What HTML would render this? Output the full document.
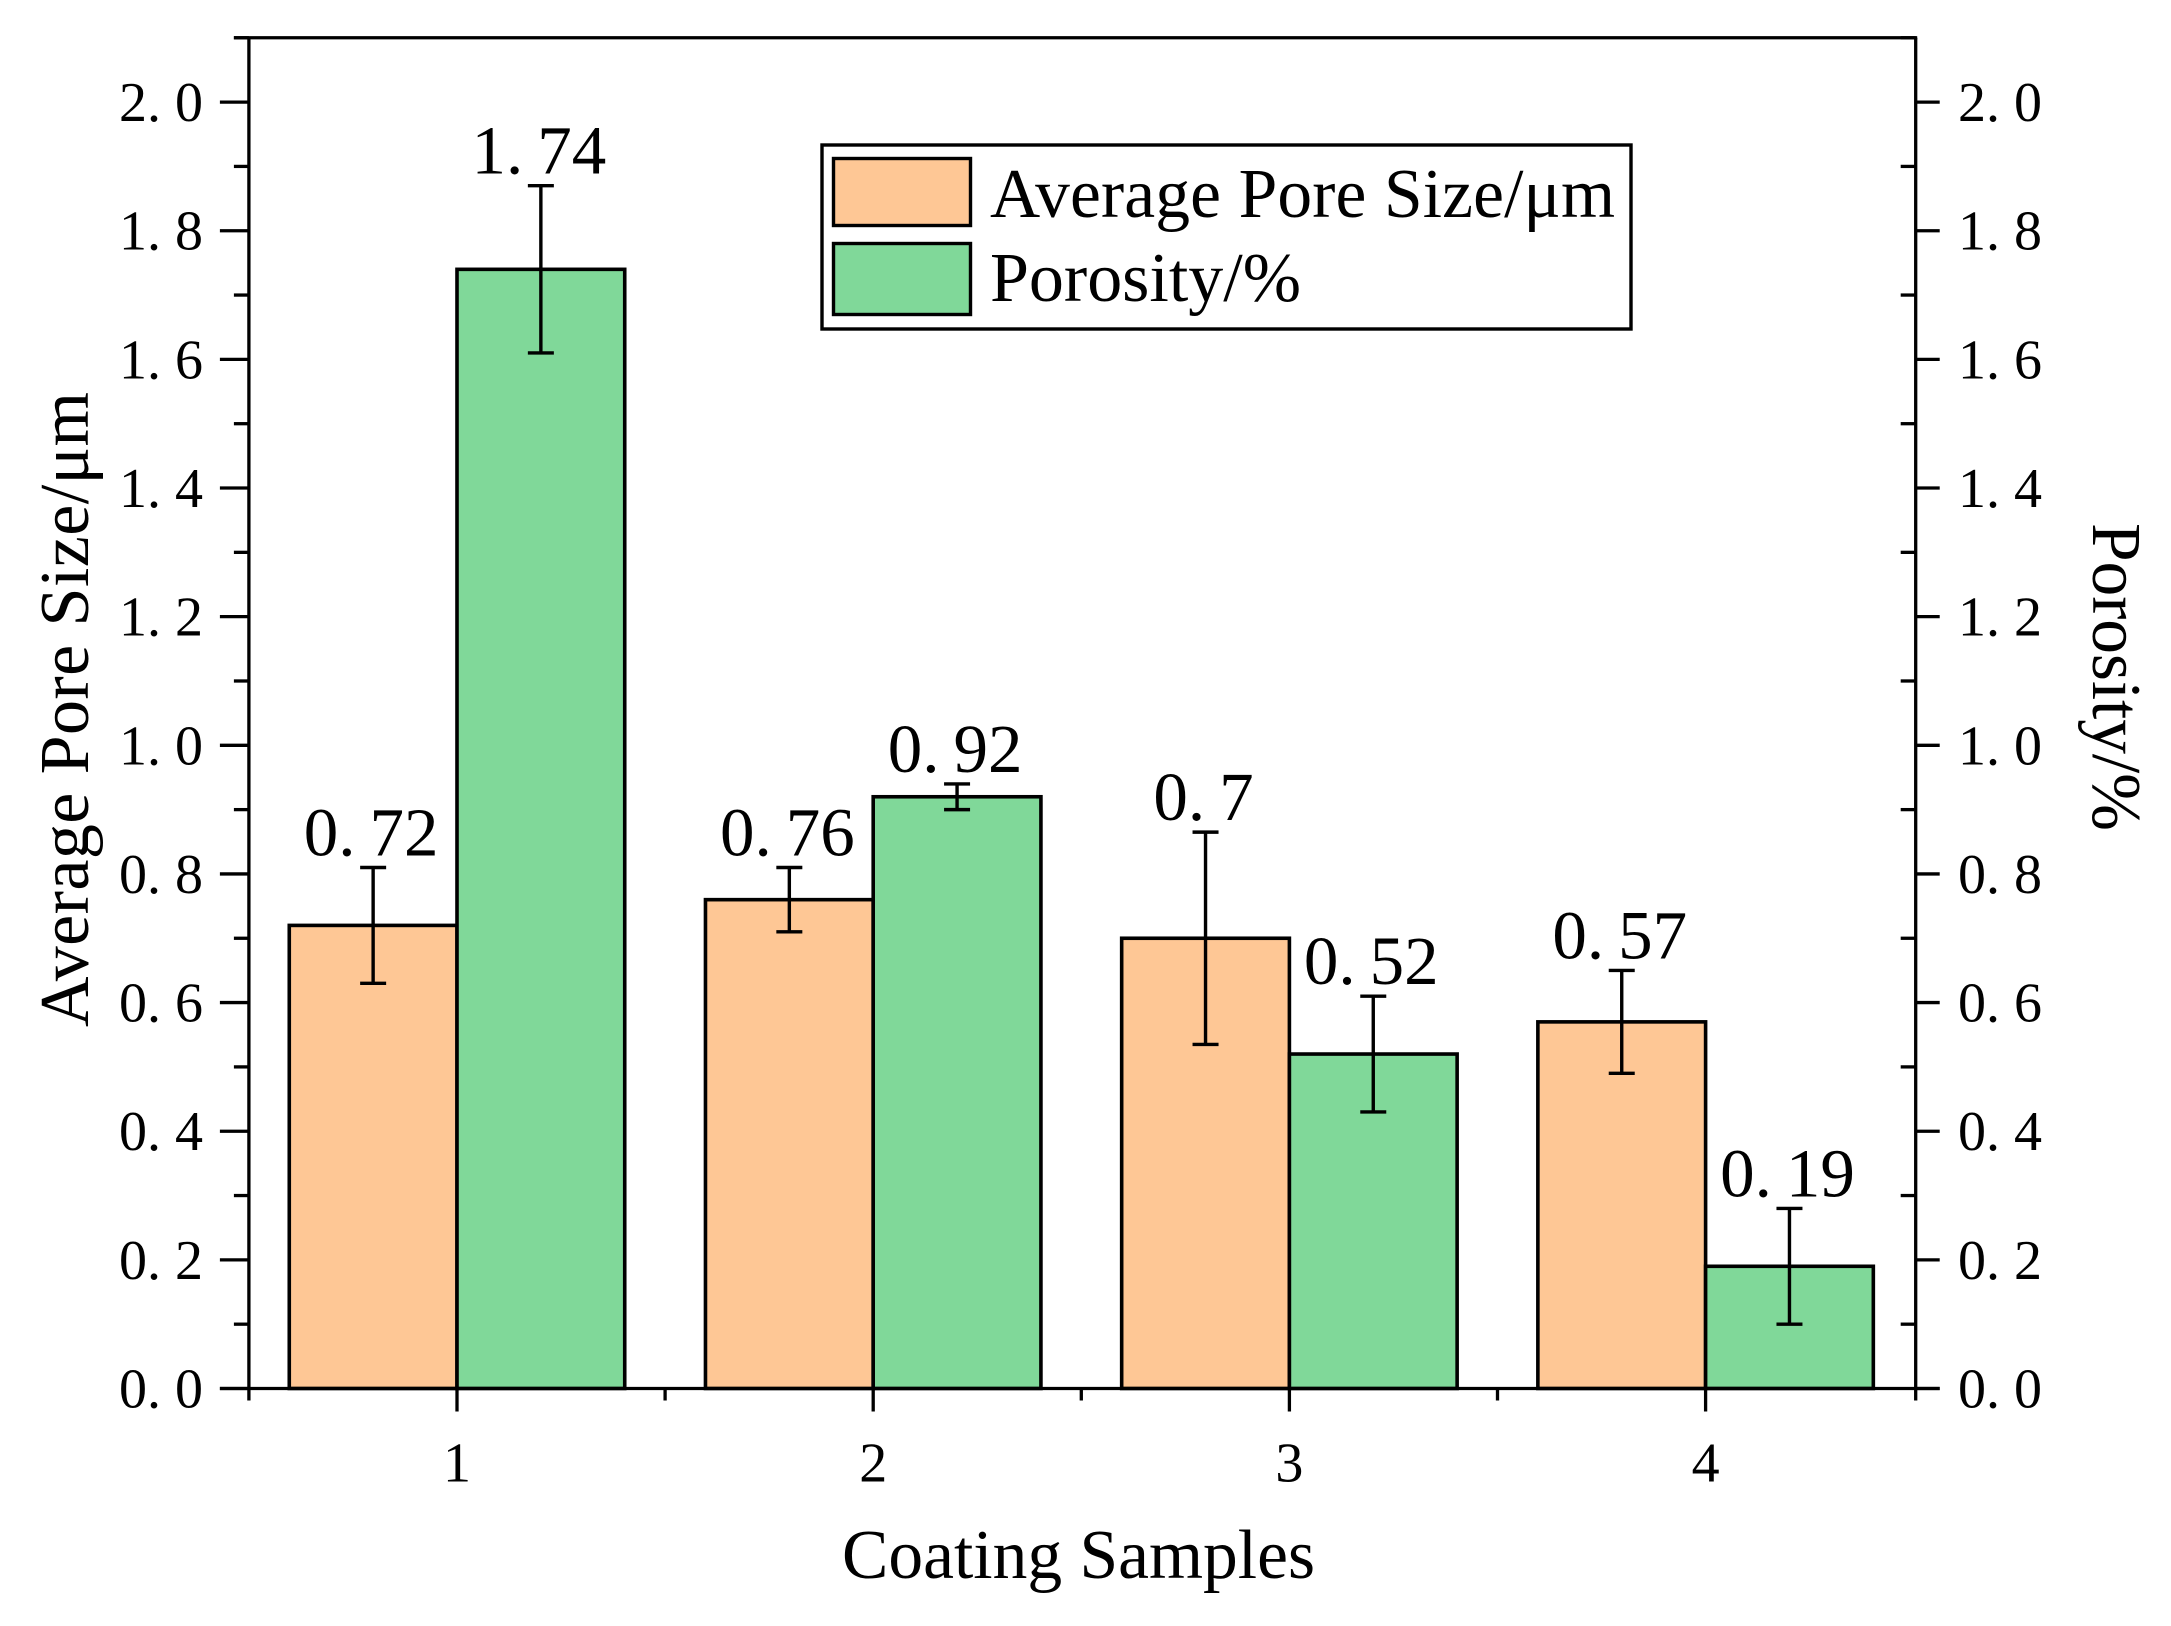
<!DOCTYPE html>
<html lang="en">
<head>
<meta charset="utf-8">
<title>Average Pore Size and Porosity of Coating Samples</title>
<style>
  html, body { margin: 0; padding: 0; background: #fff; }
  body { width: 2171px; height: 1626px; overflow: hidden; }
  svg { display: block; }
  text { font-family: "Liberation Serif", serif; fill: #000; }
</style>
</head>
<body>
<svg id="chart" xmlns="http://www.w3.org/2000/svg" width="2171" height="1626" viewBox="0 0 2171 1626">
  <g id="bars"></g>
  <g id="errors"></g>
  <g id="axes"></g>
  <g id="labels"></g>

  <text x="842" y="1578" font-size="69.5" textLength="473">Coating Samples</text>
  <text transform="translate(88 1027) rotate(-90)" font-size="70" textLength="635">Average Pore Size/μm</text>
  <text transform="translate(2093 523) rotate(90)" font-size="69.5" textLength="308">Porosity/%</text>

  <g>
    <rect x="822" y="145" width="809" height="184" fill="#fff" stroke="#000" stroke-width="3.4"/>
    <rect x="833.5" y="158.5" width="137" height="67" fill="#FEC795" stroke="#000" stroke-width="3.4"/>
    <text x="990" y="217" font-size="69.5" textLength="625">Average Pore Size/μm</text>
    <rect x="833.5" y="243.5" width="137" height="71" fill="#80D899" stroke="#000" stroke-width="3.4"/>
    <text x="990" y="301" font-size="70" textLength="311">Porosity/%</text>
  </g>
</svg>

<script>
const categories = [1, 2, 3, 4];
const averagePoreSize = [0.72, 0.76, 0.7, 0.57];
const porosity = [1.74, 0.92, 0.52, 0.19];
const averagePoreSizeError = [0.09, 0.05, 0.165, 0.08];
const porosityError = [0.13, 0.02, 0.09, 0.09];
const majorYTicks = [0, 0.2, 0.4, 0.6, 0.8, 1.0, 1.2, 1.4, 1.6, 1.8, 2.0];
const minorYTicks = [0.1, 0.3, 0.5, 0.7, 0.9, 1.1, 1.3, 1.5, 1.7, 1.9, 2.1];
const minorXTicks = [0.5, 1.5, 2.5, 3.5, 4.5];

const NS = 'http://www.w3.org/2000/svg';
const xScale = v => 457 + (v - 1) * 416.2;
const yScale = v => 1388.5 - v * 643.2;
const BAR_UNITS = 0.403;

function make(tag, parent, props) {
  const el = document.createElementNS(NS, tag);
  Object.keys(props).forEach(k => el.setAttribute(k, props[k]));
  parent.appendChild(el);
  return el;
}

function setNumber(el, str, gap) {
  const dot = str.indexOf('.');
  if (dot < 0) { el.textContent = str; return; }
  el.appendChild(document.createTextNode(str.slice(0, dot + 1)));
  const t = document.createElementNS(NS, 'tspan');
  t.setAttribute('dx', gap);
  t.textContent = str.slice(dot + 1);
  el.appendChild(t);
}

const barsG = document.getElementById('bars');
const errorsG = document.getElementById('errors');
const axesG = document.getElementById('axes');
const labelsG = document.getElementById('labels');

function drawBar(cat, value, side, color, suffix) {
  const x0 = side < 0 ? xScale(cat - BAR_UNITS) : xScale(cat);
  const x1 = side < 0 ? xScale(cat) : xScale(cat + BAR_UNITS);
  const rect = make('rect', barsG, {
    x: x0, y: yScale(value), width: x1 - x0, height: yScale(0) - yScale(value),
    fill: color, stroke: '#000', 'stroke-width': 3.6
  });
  
  
}

function drawError(cat, value, err, side, suffix) {
  const cx = xScale(cat + side * BAR_UNITS / 2);
  const hi = yScale(value + err);
  const lo = yScale(value - err);
  const stem = make('line', errorsG, { x1: cx, x2: cx, y1: hi, y2: lo, stroke: '#000', 'stroke-width': 3.4 });
  
  
  const capTop = make('line', errorsG, { x1: cx - 13, x2: cx + 13, y1: hi, y2: hi, stroke: '#000', 'stroke-width': 3.4 });
  
  
  const capBottom = make('line', errorsG, { x1: cx - 13, x2: cx + 13, y1: lo, y2: lo, stroke: '#000', 'stroke-width': 3.4 });
  
  

  const label = make('text', labelsG, { x: cx - 2, y: hi - 12, 'font-size': 69, 'text-anchor': 'middle' });
  
  
  setNumber(label, String(value), 14);
}

categories.forEach((c, i) => {
  drawBar(c, averagePoreSize[i], -1, '#FEC795', 'average-pore-size');
  drawBar(c, porosity[i], 1, '#80D899', 'porosity');
});
categories.forEach((c, i) => {
  drawError(c, averagePoreSize[i], averagePoreSizeError[i], -1, 'average-pore-size');
  drawError(c, porosity[i], porosityError[i], 1, 'porosity');
});

const left = xScale(0.5);
const right = xScale(4.5) + 2;
const AXIS_W = 3.3;

const leftAxis = make('line', axesG, { x1: left, x2: left, y1: yScale(2.1), y2: yScale(0) + 12, stroke: '#000', 'stroke-width': AXIS_W });



const rightAxis = make('line', axesG, { x1: right, x2: right, y1: yScale(2.1), y2: yScale(0) + 12, stroke: '#000', 'stroke-width': AXIS_W });



const topAxis = make('line', axesG, { x1: left - 15, x2: right + 1.5, y1: yScale(2.1), y2: yScale(2.1), stroke: '#000', 'stroke-width': AXIS_W });



const bottomAxis = make('line', axesG, { x1: left - 29, x2: right + 24, y1: yScale(0), y2: yScale(0), stroke: '#000', 'stroke-width': AXIS_W });



majorYTicks.forEach(v => {
  const y = yScale(v);
  const txt = v.toFixed(1);
  const lt = make('line', axesG, { x1: left - 29, x2: left, y1: y, y2: y, stroke: '#000', 'stroke-width': AXIS_W });
  
  
  const rt = make('line', axesG, { x1: right, x2: right + 24, y1: y, y2: y, stroke: '#000', 'stroke-width': AXIS_W });
  
  
  const ll = make('text', axesG, { x: 119, y: y + 19, 'font-size': 56 });
  
  
  setNumber(ll, txt, 14);
  const rl = make('text', axesG, { x: 1958, y: y + 19, 'font-size': 56 });
  
  
  setNumber(rl, txt, 14);
});

minorYTicks.forEach(v => {
  const y = yScale(v);
  const lt = make('line', axesG, { x1: left - 15, x2: left, y1: y, y2: y, stroke: '#000', 'stroke-width': AXIS_W });
  
  
  const rt = make('line', axesG, { x1: right - 15, x2: right, y1: y, y2: y, stroke: '#000', 'stroke-width': AXIS_W });
  
  
});

categories.forEach(c => {
  const x = xScale(c);
  const t = make('line', axesG, { x1: x, x2: x, y1: yScale(0), y2: yScale(0) + 23, stroke: '#000', 'stroke-width': AXIS_W });
  
  
  const l = make('text', axesG, { x: x, y: yScale(0) + 93, 'font-size': 56, 'text-anchor': 'middle' });
  
  
  l.textContent = String(c);
});

minorXTicks.slice(1, -1).forEach(v => {
  const x = xScale(v);
  const t = make('line', axesG, { x1: x, x2: x, y1: yScale(0), y2: yScale(0) + 12, stroke: '#000', 'stroke-width': AXIS_W });
  
  
});
</script>
</body>
</html>
